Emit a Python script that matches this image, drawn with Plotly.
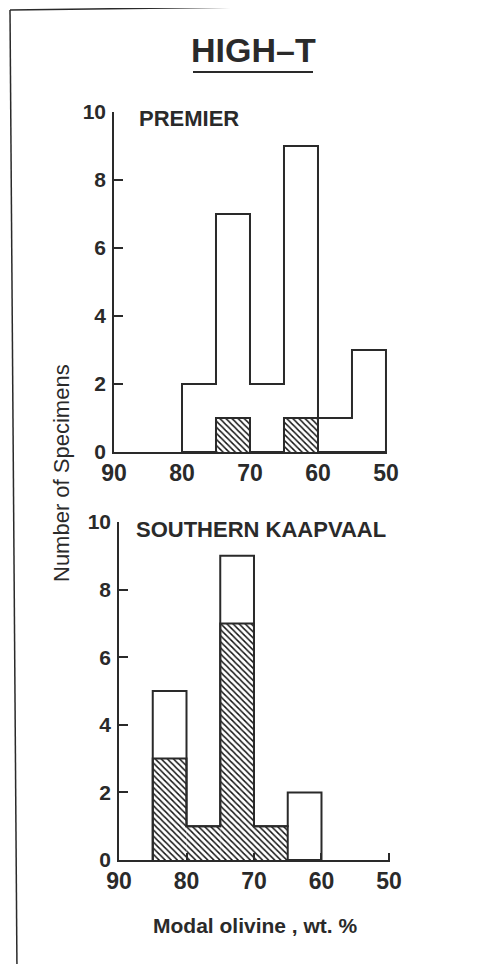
import plotly.graph_objects as go

# ---- data ----
premier_edges = [80, 75, 70, 65, 60, 55, 50]
premier_total = [2, 7, 2, 9, 1, 3]
premier_hatched = [0, 1, 0, 1, 0, 0]

kaap_edges = [85, 80, 75, 70, 65, 60]
kaap_total = [5, 1, 9, 1, 2]
kaap_hatched = [3, 1, 7, 1, 0]

x_ticks = [90, 80, 70, 60, 50]
y_ticks = [0, 2, 4, 6, 8, 10]

title_text = "HIGH\u2013T"
panel_labels = ["PREMIER", "SOUTHERN KAAPVAAL"]
x_title = "Modal olivine , wt. %"
y_title = "Number of Specimens"

W, H = 483, 964
OFF = 8  # page body margin
INK = "#2a2a2a"
FONT = "Liberation Sans, Arial, sans-serif"


def px(x):
    return (x - OFF) / W


def py(y):
    return 1 - (y - OFF) / H


def step_xy(edges, counts):
    xs = [edges[0]] + list(edges)
    ys = [0] + list(counts) + [0]
    return xs, ys


def centers(edges):
    return [(a + b) / 2 for a, b in zip(edges[:-1], edges[1:])]


fig = go.Figure()

panels = [
    (premier_edges, premier_total, premier_hatched, "x", "y"),
    (kaap_edges, kaap_total, kaap_hatched, "x2", "y2"),
]
for edges, total, hatched, xa, ya in panels:
    # hatched part
    fig.add_trace(go.Bar(
        x=centers(edges), y=hatched, width=5, xaxis=xa, yaxis=ya,
        marker=dict(color="white", line=dict(width=0),
                    pattern=dict(shape="\\", fgcolor="#111111", bgcolor="white",
                                 size=4.3, solidity=0.33)),
        showlegend=False, hoverinfo="skip"))
    hx, hy = step_xy(edges, hatched)
    fig.add_trace(go.Scatter(x=hx, y=hy, mode="lines", line=dict(color=INK, width=2, shape="hv"),
                             xaxis=xa, yaxis=ya, showlegend=False, hoverinfo="skip"))
    tx, ty = step_xy(edges, total)
    fig.add_trace(go.Scatter(x=tx, y=ty, mode="lines", line=dict(color=INK, width=2, shape="hv"),
                             xaxis=xa, yaxis=ya, showlegend=False, hoverinfo="skip"))

tickfont = dict(family=FONT, size=23, color=INK, weight="bold")

xcommon = dict(range=[90, 49.85], tickvals=x_ticks, ticktext=[str(v) for v in x_ticks],
               showline=True, linecolor=INK, linewidth=1.5, showgrid=False, zeroline=False,
               tickfont=tickfont, automargin=False)
ycommon = dict(range=[0, 10], tickvals=y_ticks, showline=True, linecolor=INK, linewidth=1.5,
               showgrid=False, zeroline=False, ticks="inside", ticklen=9, tickwidth=1.5,
               tickcolor=INK, tickfont=dict(family=FONT, size=21, color=INK, weight="bold"),
               ticklabelstandoff=2, automargin=False)

fig.update_layout(
    template="none",
    width=W, height=H, margin=dict(l=0, r=0, t=0, b=0, pad=0, autoexpand=False),
    paper_bgcolor="white", plot_bgcolor="white", barmode="overlay", showlegend=False,
    xaxis=dict(domain=[px(114), px(387)], anchor="y", ticks="", ticklabelstandoff=0, **xcommon),
    yaxis=dict(domain=[py(452), py(112)], anchor="x", **ycommon),
    xaxis2=dict(domain=[px(119), px(390)], anchor="y2", ticks="inside", ticklen=7,
                tickwidth=1.5, tickcolor=INK, ticklabelstandoff=0, **xcommon),
    yaxis2=dict(domain=[py(860), py(522)], anchor="x2", **ycommon),
)

annotations = [
    dict(text=title_text, x=px(253), y=py(50), xref="paper", yref="paper",
         showarrow=False, xanchor="center", yanchor="middle",
         font=dict(family=FONT, size=34, color=INK, weight="bold")),
    dict(text=panel_labels[0], x=px(137), y=py(118), xref="paper", yref="paper",
         showarrow=False, xanchor="left", yanchor="middle",
         font=dict(family=FONT, size=22, color=INK, weight="bold")),
    dict(text=panel_labels[1], x=px(134), y=py(529), xref="paper", yref="paper",
         showarrow=False, xanchor="left", yanchor="middle",
         font=dict(family=FONT, size=22, color=INK, weight="bold")),
    dict(text=x_title, x=px(255), y=py(925), xref="paper", yref="paper",
         showarrow=False, xanchor="center", yanchor="middle",
         font=dict(family=FONT, size=21, color=INK, weight="bold")),
    dict(text=y_title, x=px(61), y=py(473), xref="paper", yref="paper",
         showarrow=False, xanchor="center", yanchor="middle", textangle=-90,
         font=dict(family=FONT, size=22, color=INK)),
]
fig.update_layout(annotations=annotations)

shapes = [
    dict(type="line", xref="paper", yref="paper", x0=px(193), x1=px(313), y0=py(72), y1=py(72),
         line=dict(color=INK, width=2)),
    dict(type="line", xref="paper", yref="paper", x0=px(10), x1=px(491), y0=py(10), y1=py(4),
         line=dict(color=INK, width=1.5)),
    dict(type="line", xref="paper", yref="paper", x0=px(10), x1=px(17), y0=py(10), y1=py(972),
         line=dict(color=INK, width=1.5)),
]
fig.update_layout(shapes=shapes)

fig.write_html("out.html")
